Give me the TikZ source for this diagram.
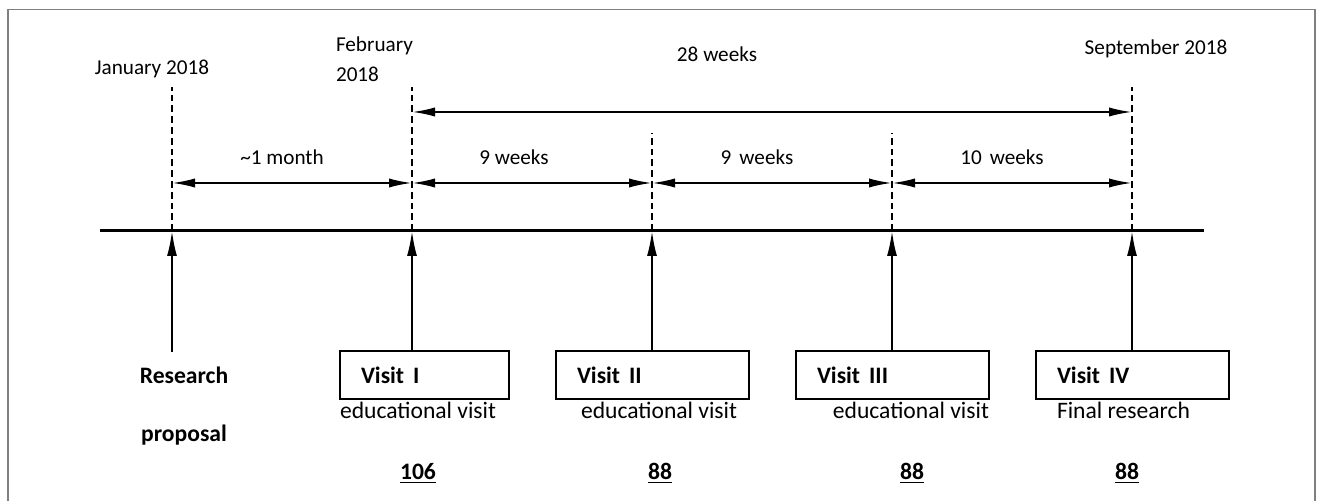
\documentclass[tikz,border=0pt]{standalone}
\usepackage{fontspec}
\setmainfont{Carlito}
\usetikzlibrary{arrows.meta,positioning}

\begin{document}
\begin{tikzpicture}[
  x=0.5pt, y=0.5pt,
  every node/.style={inner sep=0pt, outer sep=0pt, font=\fontsize{11.8}{14}\selectfont},
  small/.style={font=\fontsize{10.6}{12.7}\selectfont},
  strong/.style={font=\fontsize{11.8}{14}\selectfont\bfseries},
  lifeline/.style={draw=black, line width=0.75pt, dash pattern=on 3.4pt off 2pt},
  visit/.style={rectangle, draw, line width=0.8pt, minimum height=24pt, minimum width=96.5pt,
    inner xsep=10.5pt, text width=75.5pt, align=left, font=\fontsize{11.8}{14}\selectfont\bfseries},
  span/.style={{Latex[length=11.5pt,width=4.6pt]}-{Latex[length=11.5pt,width=4.6pt]}, line width=1pt},
  arrow/.style={-{Latex[length=12.5pt,width=5pt]}, line width=1pt}
]

\def\colspacing{240}

\useasboundingbox (-172,-270) rectangle (1146,231);
\draw[gray, line width=0.75pt] (-164,-290) -- (-164,221.5) -- (1143,221.5) -- (1143,-290);

\coordinate (C0) at (0,0);
\coordinate (C1) at (\colspacing,0);
\coordinate (C2) at (2*\colspacing,0);
\coordinate (C3) at (3*\colspacing,0);
\coordinate (C4) at (4*\colspacing,0);

\coordinate (M0) at (0,48);
\coordinate (M1) at (\colspacing,48);
\coordinate (M2) at (2*\colspacing,48);
\coordinate (M3) at (3*\colspacing,48);
\coordinate (M4) at (4*\colspacing,48);

\coordinate (W1) at (\colspacing,119);
\coordinate (W4) at (4*\colspacing,119);

% time axis
\draw[line width=1.5pt] (-72,0) -- (1032,0);

\draw[lifeline] (C0) -- ++(0,144);
\draw[lifeline] (C1) -- ++(0,144);
\draw[lifeline] (C2) -- ++(0,98);
\draw[lifeline] (C3) -- ++(0,98);
\draw[lifeline] (C4) -- ++(0,144);

\node[small, anchor=base] (jan) at (-20,156) {January 2018};
\node[small, anchor=base west] (feb) at (164,179) {February};
\node[small, anchor=base west] (febyear) at (164,149) {2018};
\node[small, anchor=base] (sep) at (984,176) {September 2018};

\draw[span] (W1) -- (W4);
\node[small, anchor=base] (total) at (545,169) {28 weeks};

\draw[span] (M0) -- (M1);
\draw[span] (M1) -- (M2);
\draw[span] (M2) -- (M3);
\draw[span] (M3) -- (M4);
\node[small, anchor=base] (gap0) at (110,66) {\textasciitilde1 month};
\node[small, anchor=base] (gap1) at (342,66) {9 weeks};
\node[small, anchor=base] (gap2) at (585,66) {9\hspace{4pt}weeks};
\node[small, anchor=base] (gap3) at (830,66) {10\hspace{4pt}weeks};

% visits
\node[visit, minimum width=84.5pt, text width=63.5pt] (v1) at (252.5,-144) {Visit\hspace{4.5pt}I};
\node[visit] (v2) at (480.5,-144) {Visit\hspace{4.5pt}II};
\node[visit] (v3) at (720.5,-144) {Visit\hspace{4.5pt}III};
\node[visit] (v4) at (960.5,-144) {Visit\hspace{4.5pt}IV};

\coordinate (R0) at (0,-121);
\draw[arrow] (R0) -- (C0);
\draw[arrow] (v1.north -| C1) -- (C1);
\draw[arrow] (v2.north -| C2) -- (C2);
\draw[arrow] (v3.north -| C3) -- (C3);
\draw[arrow] (v4.north -| C4) -- (C4);

\node[anchor=base west] (e1) at ([yshift=-9.75pt]v1.south west) {educational visit};
\node[anchor=base west] (e2) at ([xshift=12.5pt,yshift=-9.75pt]v2.south west) {educational visit};
\node[anchor=base east] (e3) at ([yshift=-9.75pt]v3.south east) {educational visit};
\node[anchor=base west] (e4) at ([xshift=10.5pt,yshift=-9.75pt]v4.south west) {Final research};

\node[strong, anchor=base] (research) at (12,-152.5) {Research};
\node[strong, anchor=base] (proposal) at (12,-211) {proposal};

\node[strong, anchor=base] (n1) at (246,-248.5) {\underline{106}};
\node[strong, anchor=base] (n2) at (488,-248.5) {\underline{88}};
\node[strong, anchor=base] (n3) at (740,-248.5) {\underline{88}};
\node[strong, anchor=base] (n4) at (955,-248.5) {\underline{88}};

\end{tikzpicture}
\end{document}
